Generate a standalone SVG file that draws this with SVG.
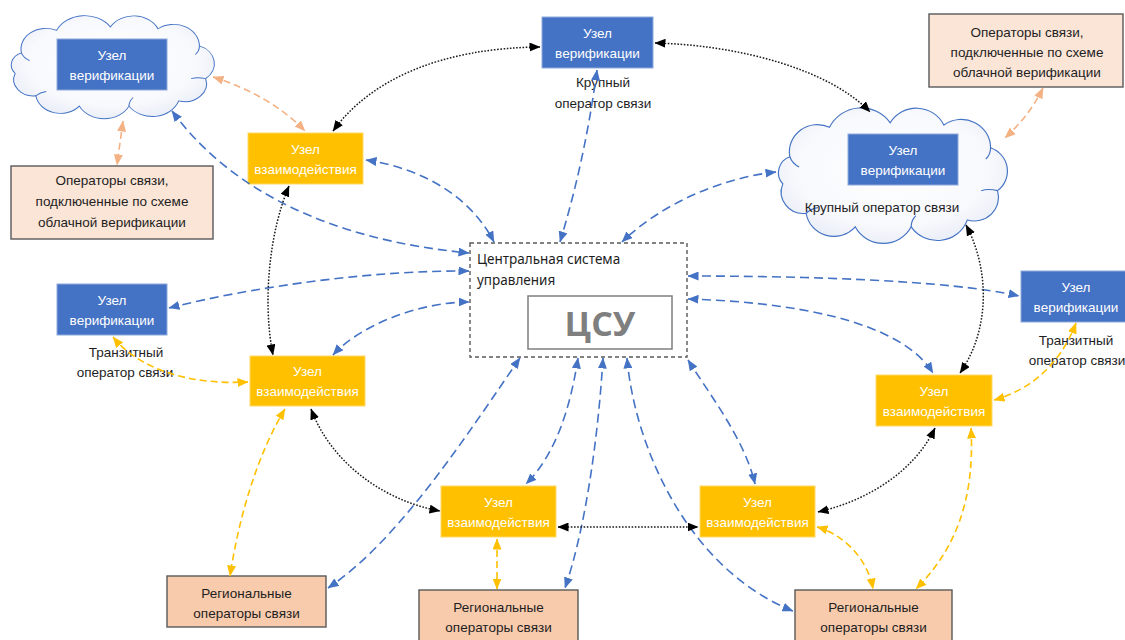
<svg xmlns="http://www.w3.org/2000/svg" width="1125" height="640" viewBox="0 0 1125 640">
  <style>
    .ver { fill: #4472C4; stroke: #8FAADC; stroke-width: 1; }
    .int { fill: #FFC000; stroke: #FFD966; stroke-width: 1; }
    .opl { fill: #FBE5D6; stroke: #595959; stroke-width: 1.4; }
    .opr { fill: #F8CBAD; stroke: #595959; stroke-width: 1.4; }
    .cloud { fill: url(#cloudFill); stroke: #4472C4; stroke-width: 1; vector-effect: non-scaling-stroke; }
    .curl { fill: none; stroke: #4472C4; stroke-width: 1; vector-effect: non-scaling-stroke; }
    .wt { font-family: "Liberation Sans", Arial, sans-serif; font-size: 13.5px; fill: #FFFFFF; text-anchor: middle; }
    .bt { font-family: "Liberation Sans", Arial, sans-serif; font-size: 13.5px; fill: #1E1E1E; text-anchor: middle; }
    .lnk { fill: none; }
    .blue { stroke: #4472C4; stroke-width: 1.6; stroke-dasharray: 9 5; marker-start: url(#mB); marker-end: url(#mB); }
    .dot { stroke: #1A1A1A; stroke-width: 1.5; stroke-dasharray: 1.6 1.6; marker-start: url(#mK); marker-end: url(#mK); }
    .yel { stroke: #FFC000; stroke-width: 1.6; stroke-dasharray: 7 4; marker-start: url(#mY); marker-end: url(#mY); }
    .pch { stroke: #F4B183; stroke-width: 1.6; stroke-dasharray: 7 4; marker-start: url(#mP); marker-end: url(#mP); }
  </style>
  <defs>
    <radialGradient id="cloudFill" cx="0.5" cy="0.45" r="0.6">
      <stop offset="0" stop-color="#FFFFFF"/>
      <stop offset="0.7" stop-color="#F8F9FD"/>
      <stop offset="1" stop-color="#E6EBF5"/>
    </radialGradient>
    <marker id="mB" viewBox="0 0 11 9" refX="10.5" refY="4.5" markerWidth="11" markerHeight="9" markerUnits="userSpaceOnUse" orient="auto-start-reverse">
      <path d="M0,0 L11,4.5 L0,9 z" fill="#4472C4"/>
    </marker>
    <marker id="mK" viewBox="0 0 11 9" refX="10.5" refY="4.5" markerWidth="11" markerHeight="9" markerUnits="userSpaceOnUse" orient="auto-start-reverse">
      <path d="M0,0 L11,4.5 L0,9 z" fill="#000000"/>
    </marker>
    <marker id="mY" viewBox="0 0 11 9" refX="10.5" refY="4.5" markerWidth="11" markerHeight="9" markerUnits="userSpaceOnUse" orient="auto-start-reverse">
      <path d="M0,0 L11,4.5 L0,9 z" fill="#FFC000"/>
    </marker>
    <marker id="mP" viewBox="0 0 11 9" refX="10.5" refY="4.5" markerWidth="11" markerHeight="9" markerUnits="userSpaceOnUse" orient="auto-start-reverse">
      <path d="M0,0 L11,4.5 L0,9 z" fill="#F4B183"/>
    </marker>
    <!-- cloud outline in a local ~200x120 frame -->
    <path id="cloudShape" d="M14,40 A24,24 0 0 1 48,14 A30,30 0 0 1 100,10 A26,26 0 0 1 146,12 A25,25 0 0 1 186,32 A22,22 0 0 1 192,70 A21,21 0 0 1 166,96 A27,27 0 0 1 118,102 A27,27 0 0 1 70,102 A24,24 0 0 1 28,90 A19,19 0 0 1 8,64 A15,15 0 0 1 14,40 Z"/>
    <!-- small inner curls at the lobe joints -->
    <path id="cloudCurls" d="M14,40 Q16,46 22,49 M186,32 Q186,38 182,42 M192,70 Q184,68 178,70 M118,102 Q118,96 122,92 M28,90 Q32,86 38,85"/>
  </defs>

  <rect width="1125" height="640" fill="#FFFFFF"/>

  <!-- top-left cloud with verification node -->
  <g id="cloud-left">
    <g transform="translate(6.9,18.4) scale(1.035,0.86)">
      <use href="#cloudShape" class="cloud"/>
      <use href="#cloudCurls" class="curl"/>
    </g>
    <rect class="ver" x="57" y="39" width="110" height="51"/>
    <text class="wt" x="112" y="60">Узел</text>
    <text class="wt" x="112" y="80">верификации</text>
  </g>

  <g id="ops-cloud-left">
    <rect class="opl" x="11" y="166" width="202" height="73"/>
    <text class="bt" x="112" y="185">Операторы связи,</text>
    <text class="bt" x="112" y="206">подключенные по схеме</text>
    <text class="bt" x="112" y="227">облачной верификации</text>
  </g>

  <g id="int-top-left">
    <rect class="int" x="248" y="133" width="115" height="51"/>
    <text class="wt" x="305.5" y="154">Узел</text>
    <text class="wt" x="305.5" y="174">взаимодействия</text>
  </g>

  <g id="ver-top">
    <rect class="ver" x="542" y="17" width="111" height="51"/>
    <text class="wt" x="597.5" y="38">Узел</text>
    <text class="wt" x="597.5" y="58">верификации</text>
    <text class="bt" x="603" y="87">Крупный</text>
    <text class="bt" x="603" y="108">оператор связи</text>
  </g>

  <g id="ops-cloud-right">
    <rect class="opl" x="929" y="14" width="194" height="73"/>
    <text class="bt" x="1027" y="37">Операторы связи,</text>
    <text class="bt" x="1027" y="57">подключенные по схеме</text>
    <text class="bt" x="1027" y="77">облачной верификации</text>
  </g>

  <g id="cloud-right">
    <g transform="translate(773.5,111.5) scale(1.167,1.131)">
      <use href="#cloudShape" class="cloud"/>
      <use href="#cloudCurls" class="curl"/>
    </g>
    <rect class="ver" x="848" y="134" width="110" height="51"/>
    <text class="wt" x="903" y="155">Узел</text>
    <text class="wt" x="903" y="175">верификации</text>
    <text class="bt" x="882" y="212">Крупный оператор связи</text>
  </g>

  <g id="csu">
    <rect x="470" y="243" width="217" height="114" fill="#FFFFFF" stroke="#595959" stroke-width="1.4" stroke-dasharray="4 3"/>
    <text x="477" y="264" font-family="Noto Sans, Open Sans, sans-serif" font-size="13.5" fill="#1E1E1E">Центральная система</text>
    <text x="477" y="285" font-family="Noto Sans, Open Sans, sans-serif" font-size="13.5" fill="#1E1E1E">управления</text>
    <rect x="528" y="296" width="144" height="53" fill="#FFFFFF" stroke="#7F7F7F" stroke-width="1.5"/>
    <text x="600" y="336" font-family="Open Sans, Noto Sans, sans-serif" font-size="34" font-weight="bold" fill="#7F7F7F" text-anchor="middle">ЦСУ</text>
  </g>

  <g id="ver-left">
    <rect class="ver" x="57" y="284" width="110" height="51"/>
    <text class="wt" x="112" y="305">Узел</text>
    <text class="wt" x="112" y="325">верификации</text>
    <text class="bt" x="126" y="357">Транзитный</text>
    <text class="bt" x="125" y="377">оператор связи</text>
  </g>

  <g id="int-mid-left">
    <rect class="int" x="250" y="356" width="115" height="50"/>
    <text class="wt" x="307.5" y="376">Узел</text>
    <text class="wt" x="307.5" y="396">взаимодействия</text>
  </g>

  <g id="ver-right">
    <rect class="ver" x="1021" y="271" width="106" height="51"/>
    <text class="wt" x="1076" y="292">Узел</text>
    <text class="wt" x="1076" y="312">верификации</text>
    <text class="bt" x="1076" y="345">Транзитный</text>
    <text class="bt" x="1077" y="365">оператор связи</text>
  </g>

  <g id="int-mid-right">
    <rect class="int" x="876" y="375" width="116" height="51"/>
    <text class="wt" x="934" y="396">Узел</text>
    <text class="wt" x="934" y="416">взаимодействия</text>
  </g>

  <g id="int-bottom-mid">
    <rect class="int" x="441" y="486" width="115" height="51"/>
    <text class="wt" x="498.5" y="507">Узел</text>
    <text class="wt" x="498.5" y="527">взаимодействия</text>
  </g>

  <g id="int-bottom-right">
    <rect class="int" x="700" y="486" width="115" height="51"/>
    <text class="wt" x="757.5" y="507">Узел</text>
    <text class="wt" x="757.5" y="527">взаимодействия</text>
  </g>

  <g id="reg-left">
    <rect class="opr" x="167" y="576" width="159" height="51"/>
    <text class="bt" x="246.5" y="598">Региональные</text>
    <text class="bt" x="246.5" y="618">операторы связи</text>
  </g>

  <g id="reg-mid">
    <rect class="opr" x="419" y="590" width="159" height="58"/>
    <text class="bt" x="498.5" y="612">Региональные</text>
    <text class="bt" x="498.5" y="632">операторы связи</text>
  </g>

  <g id="reg-right">
    <rect class="opr" x="795" y="590" width="157" height="58"/>
    <text class="bt" x="873.5" y="612">Региональные</text>
    <text class="bt" x="873.5" y="632">операторы связи</text>
  </g>

  <g id="connectors" class="lnk">
    <!-- control links to the central system -->
    <path class="lnk blue" d="M172,111 C230,190 330,240 469,253"/>
    <path class="lnk blue" d="M366,160 C420,168 470,195 494,242"/>
    <path class="lnk blue" d="M597,70 Q585,160 560,242"/>
    <path class="lnk blue" d="M776,172 C720,178 660,205 622,242"/>
    <path class="lnk blue" d="M169,308 C260,285 380,270 469,271"/>
    <path class="lnk blue" d="M333,355 C360,325 420,302 469,302"/>
    <path class="lnk blue" d="M688,276 C800,276 950,280 1019,296"/>
    <path class="lnk blue" d="M688,299 C790,302 900,320 933,373"/>
    <path class="lnk blue" d="M520,358 C470,430 400,540 328,588"/>
    <path class="lnk blue" d="M578,358 C570,410 555,455 526,484"/>
    <path class="lnk blue" d="M603,358 C598,440 585,530 565,588"/>
    <path class="lnk blue" d="M627,358 C635,450 690,570 793,611"/>
    <path class="lnk blue" d="M688,360 C710,395 745,440 755,484"/>

    <!-- links between interaction and verification nodes -->
    <path class="lnk dot" d="M333,131 C370,80 440,48 540,47"/>
    <path class="lnk dot" d="M655,43 C740,45 830,70 870,112"/>
    <path class="lnk dot" d="M289,186 C270,230 262,300 273,355"/>
    <path class="lnk dot" d="M311,409 C330,460 380,500 440,511"/>
    <path class="lnk dot" d="M558,527 L698,527"/>
    <path class="lnk dot" d="M818,512 C870,500 915,470 935,428"/>
    <path class="lnk dot" d="M966,225 C990,270 990,330 960,373"/>

    <!-- operator access links -->
    <path class="lnk yel" d="M113,337 C140,370 190,385 248,382"/>
    <path class="lnk yel" d="M285,409 C260,450 240,510 230,576"/>
    <path class="lnk yel" d="M497,539 L497,589"/>
    <path class="lnk yel" d="M817,527 C845,535 868,560 873,589"/>
    <path class="lnk yel" d="M971,428 C975,500 955,550 916,589"/>
    <path class="lnk yel" d="M1076,323 C1060,365 1030,390 994,400"/>

    <!-- cloud verification links -->
    <path class="lnk pch" d="M213,77 Q270,95 305,131"/>
    <path class="lnk pch" d="M123,121 L117,165"/>
    <path class="lnk pch" d="M1043,88 Q1030,115 1005,138"/>
  </g>
</svg>
